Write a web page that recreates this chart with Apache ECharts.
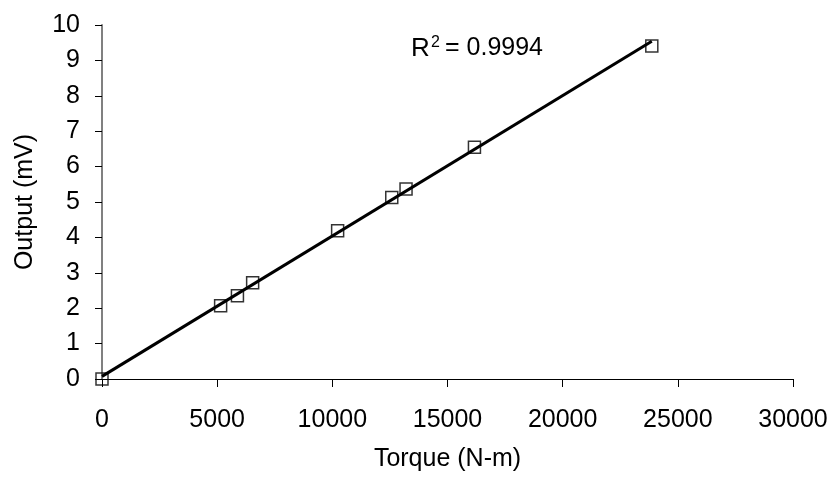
<!DOCTYPE html>
<html><head><meta charset="utf-8">
<script src="https://cdn.jsdelivr.net/npm/echarts@6/dist/echarts.min.js"></script>
<style>html,body{margin:0;padding:0;background:#fff}#c{width:832px;height:477px}</style>
</head><body><div id="c"></div>
<script>
var torque = [0, 5150, 5880, 6540, 10230, 12580, 13200, 16170, 23870];
var output = [0, 2.07, 2.35, 2.72, 4.19, 5.13, 5.37, 6.55, 9.41];
var xTicks = [0, 5000, 10000, 15000, 20000, 25000, 30000];
var yTicks = [0, 1, 2, 3, 4, 5, 6, 7, 8, 9, 10];
var r2Value = '0.9994';

// least-squares trendline computed from the data
var n = torque.length, sx = 0, sy = 0, sxx = 0, sxy = 0;
for (var i = 0; i < n; i++) { sx += torque[i]; sy += output[i]; sxx += torque[i] * torque[i]; sxy += torque[i] * output[i]; }
var slope = (n * sxy - sx * sy) / (n * sxx - sx * sx), icpt = (sy - slope * sx) / n;
var xmin = Math.min.apply(null, torque), xmax = Math.max.apply(null, torque);
var trend = [[xmin, icpt + slope * xmin], [xmax, icpt + slope * xmax]];

var font = 'Liberation Sans, Arial, sans-serif';
var chart = echarts.init(document.getElementById('c'));
chart.setOption({
  animation: false,
  grid: { left: 102, right: 39, top: 25, bottom: 96 },
  xAxis: { type: 'value', min: xTicks[0], max: xTicks[xTicks.length - 1], interval: xTicks[1] - xTicks[0],
    name: 'Torque (N-m)', nameLocation: 'middle', nameGap: 68,
    nameTextStyle: { fontFamily: font, fontSize: 25, color: '#000' },
    axisLine: { lineStyle: { color: '#000', width: 1 } },
    axisTick: { inside: false, length: 8, lineStyle: { color: '#000' } },
    axisLabel: { fontFamily: font, fontSize: 25, color: '#000', margin: 29, formatter: function (v) { return String(v); } },
    splitLine: { show: false } },
  yAxis: { type: 'value', min: yTicks[0], max: yTicks[yTicks.length - 1], interval: yTicks[1] - yTicks[0],
    name: 'Output (mV)', nameLocation: 'middle', nameGap: 64,
    nameTextStyle: { fontFamily: font, fontSize: 25, color: '#000' },
    axisLine: { show: true, lineStyle: { color: '#808080', width: 2 } },
    axisTick: { show: true, length: 7, lineStyle: { color: '#000' } },
    axisLabel: { fontFamily: font, fontSize: 25, color: '#000', margin: 22, formatter: function (v) { return String(v); } },
    splitLine: { show: false } },
  graphic: [
    { type: 'text', left: 411, top: 36, style: { text: 'R', fontFamily: font, fontSize: 26, fill: '#000' } },
    { type: 'text', left: 431, top: 35, style: { text: '2', fontFamily: font, fontSize: 16, fill: '#000' } },
    { type: 'text', left: 445, top: 36, style: { text: '= ' + r2Value, fontFamily: font, fontSize: 25, fill: '#000' } }
  ],
  series: [
    { type: 'line', data: trend, symbol: 'none', lineStyle: { color: '#000', width: 3 }, z: 2, silent: true },
    { type: 'scatter', data: torque.map(function (t, i) { return [t, output[i]]; }),
      symbol: 'rect', symbolSize: 12, itemStyle: { color: 'rgba(255,255,255,0)', borderColor: '#000', borderWidth: 1.5 }, z: 3 }
  ]
});
</script></body></html>
